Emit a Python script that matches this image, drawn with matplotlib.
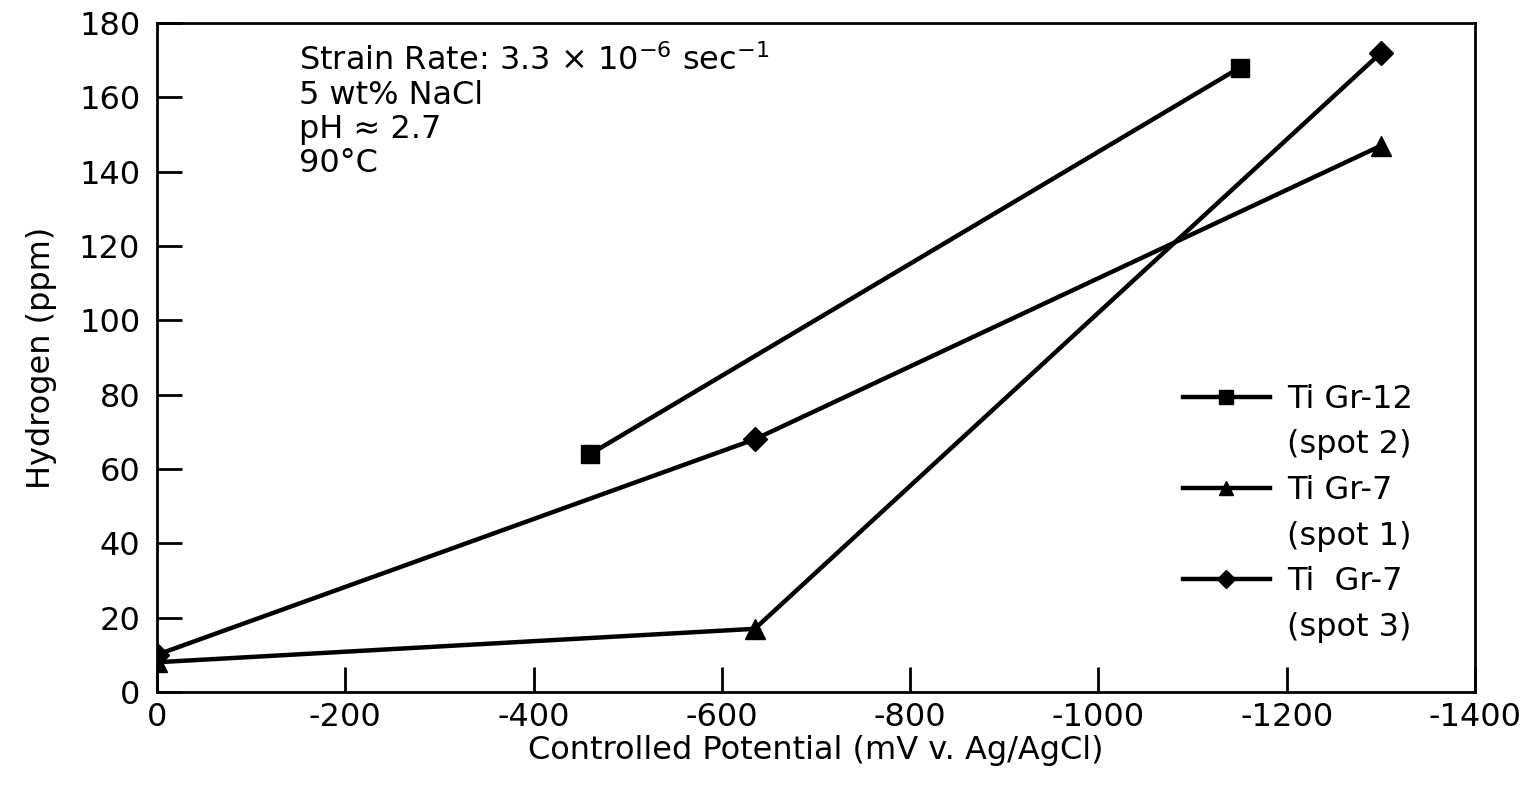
import matplotlib
matplotlib.use("Agg")
import matplotlib.pyplot as plt
from matplotlib.lines import Line2D

plt.rcParams['font.family'] = ['DejaVu Sans']
plt.rcParams['axes.unicode_minus'] = False

# data (mV v. Ag/AgCl, ppm)
x_pts = [0, -635, -1300]
gr12_x = [-460, -1150]
gr12_y = [64, 168]
# the drawn lines cross over at -1300: the spot 1 line ends on the diamond,
# the spot 3 line ends on the triangle, so lines and markers kept apart
spot1_line_y = [8, 17, 172]
spot3_line_y = [10, 68, 147]
tri_y = [8, 17, 147]
dia_y = [10, 68, 172]

x_ticks = [0, -200, -400, -600, -800, -1000, -1200, -1400]
y_ticks = [0, 20, 40, 60, 80, 100, 120, 140, 160, 180]

fs = 23
fig = plt.figure(figsize=(15.28, 7.85), dpi=100)
ax = fig.add_axes([0.1027, 0.1185, 0.8626, 0.852])

lw = 3.2
ax.plot(gr12_x, gr12_y, color='k', lw=lw, marker='s', ms=13)
ax.plot(x_pts, spot1_line_y, color='k', lw=lw)
ax.plot(x_pts, spot3_line_y, color='k', lw=lw)
ax.plot(x_pts, tri_y, color='k', ls='none', marker='^', ms=15)
ax.plot(x_pts, dia_y, color='k', ls='none', marker='D', ms=12)

ax.set_xlim(0, -1400)
ax.set_ylim(0, 180)
ax.set_xticks(x_ticks)
ax.set_yticks(y_ticks)
ax.tick_params(direction='in', length=18, width=2, labelsize=fs)
ax.tick_params(axis='x', pad=7)
ax.tick_params(axis='y', pad=12)
for s in ax.spines.values():
    s.set_linewidth(2)

ax.set_xlabel('Controlled Potential (mV v. Ag/AgCl)', fontsize=fs, labelpad=2)
ax.set_ylabel('Hydrogen (ppm)', fontsize=fs, labelpad=16)

ax.text(0.108, 0.968,
        'Strain Rate: 3.3 × 10$^{\\mathregular{-6}}$ sec$^{\\mathregular{-1}}$\n5 wt% NaCl\npH ≈ 2.7\n90°C',
        transform=ax.transAxes, va='top', ha='left', fontsize=fs, linespacing=1.12)

blank = Line2D([], [], linestyle='none')
handles = [
    Line2D([], [], color='k', lw=lw, marker='s', ms=10), blank,
    Line2D([], [], color='k', lw=lw, marker='^', ms=10), blank,
    Line2D([], [], color='k', lw=lw, marker='D', ms=9), blank,
]
labels = ['Ti Gr-12', '(spot 2)', 'Ti Gr-7', '(spot 1)', 'Ti  Gr-7', '(spot 3)']
ax.legend(handles, labels, loc='upper left', bbox_to_anchor=(0.769, 0.48),
          borderaxespad=0, frameon=False, fontsize=fs, handlelength=2.7,
          handletextpad=0.55, labelspacing=0.46)

fig.savefig('out.png', dpi=100)
